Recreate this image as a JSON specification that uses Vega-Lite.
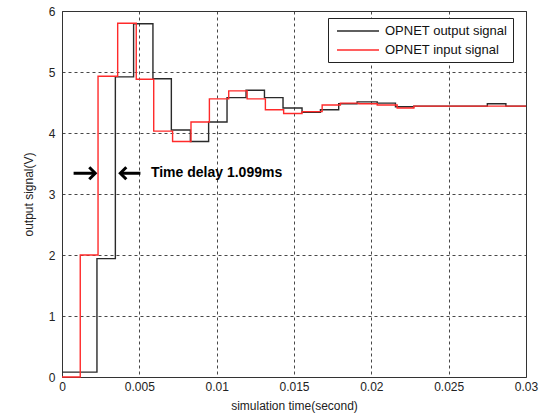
{
  "$schema": "https://vega.github.io/schema/vega-lite/v6.json",
  "width": 464,
  "height": 366,
  "autosize": {"type": "none"},
  "padding": {"left": 62, "top": 11, "right": 17, "bottom": 39},
  "background": "white",
  "config": {
    "font": "Liberation Sans",
    "view": {"stroke": "#333333", "strokeWidth": 1},
    "axis": {
      "domain": false,
      "grid": true,
      "gridColor": "#333333",
      "gridDash": [3, 3],
      "gridWidth": 1,
      "gridOpacity": 0.9,
      "ticks": false,
      "labelFont": "Liberation Sans",
      "labelFontSize": 12,
      "labelColor": "#222222",
      "labelFlush": false,
      "labelOverlap": false,
      "titleFont": "Liberation Sans",
      "titleFontSize": 12,
      "titleFontWeight": "normal",
      "titleColor": "#222222"
    }
  },
  "datasets": {
    "signals": [
      {"series": "OPNET output signal", "t": 0, "v": 0.08},
      {"series": "OPNET output signal", "t": 0.00226, "v": 1.94},
      {"series": "OPNET output signal", "t": 0.00345, "v": 4.92},
      {"series": "OPNET output signal", "t": 0.00463, "v": 5.79},
      {"series": "OPNET output signal", "t": 0.00588, "v": 4.89},
      {"series": "OPNET output signal", "t": 0.00707, "v": 4.05},
      {"series": "OPNET output signal", "t": 0.0083, "v": 3.86},
      {"series": "OPNET output signal", "t": 0.00948, "v": 4.18},
      {"series": "OPNET output signal", "t": 0.01067, "v": 4.58},
      {"series": "OPNET output signal", "t": 0.0119, "v": 4.7},
      {"series": "OPNET output signal", "t": 0.01309, "v": 4.58},
      {"series": "OPNET output signal", "t": 0.01429, "v": 4.41},
      {"series": "OPNET output signal", "t": 0.01552, "v": 4.34},
      {"series": "OPNET output signal", "t": 0.01671, "v": 4.38},
      {"series": "OPNET output signal", "t": 0.01789, "v": 4.48},
      {"series": "OPNET output signal", "t": 0.01908, "v": 4.51},
      {"series": "OPNET output signal", "t": 0.02038, "v": 4.49},
      {"series": "OPNET output signal", "t": 0.02156, "v": 4.43},
      {"series": "OPNET output signal", "t": 0.02275, "v": 4.44},
      {"series": "OPNET output signal", "t": 0.0275, "v": 4.48},
      {"series": "OPNET output signal", "t": 0.0287, "v": 4.44},
      {"series": "OPNET output signal", "t": 0.03, "v": 4.44},
      {"series": "OPNET input signal", "t": 0, "v": 0},
      {"series": "OPNET input signal", "t": 0.00118, "v": 2.0},
      {"series": "OPNET input signal", "t": 0.00233, "v": 4.93},
      {"series": "OPNET input signal", "t": 0.0036, "v": 5.8},
      {"series": "OPNET input signal", "t": 0.0048, "v": 4.88},
      {"series": "OPNET input signal", "t": 0.00593, "v": 4.03},
      {"series": "OPNET input signal", "t": 0.00715, "v": 3.86},
      {"series": "OPNET input signal", "t": 0.00834, "v": 4.18},
      {"series": "OPNET input signal", "t": 0.00953, "v": 4.56},
      {"series": "OPNET input signal", "t": 0.01078, "v": 4.69},
      {"series": "OPNET input signal", "t": 0.01197, "v": 4.56},
      {"series": "OPNET input signal", "t": 0.01315, "v": 4.38},
      {"series": "OPNET input signal", "t": 0.01433, "v": 4.32},
      {"series": "OPNET input signal", "t": 0.01552, "v": 4.35},
      {"series": "OPNET input signal", "t": 0.01682, "v": 4.46},
      {"series": "OPNET input signal", "t": 0.018, "v": 4.49},
      {"series": "OPNET input signal", "t": 0.01919, "v": 4.48},
      {"series": "OPNET input signal", "t": 0.02038, "v": 4.46},
      {"series": "OPNET input signal", "t": 0.02167, "v": 4.41},
      {"series": "OPNET input signal", "t": 0.02275, "v": 4.44},
      {"series": "OPNET input signal", "t": 0.03, "v": 4.44}
    ],
    "arrows": [
      {"t": 0.00075, "t2": 0.00213, "v": 3.34},
      {"t": 0.00379, "t2": 0.00507, "v": 3.34}
    ],
    "heads": [
      {"t": 0.00215, "v": 3.34, "shape": "M-1,-1L0,0L-1,1"},
      {"t": 0.00377, "v": 3.34, "shape": "M1,-1L0,0L1,1"}
    ],
    "notes": [
      {"t": 0.00575, "v": 3.34, "label": "Time delay 1.099ms"}
    ]
  },
  "layer": [
    {
      "data": {"name": "signals"},
      "transform": [{"filter": "datum.series === 'OPNET output signal'"}],
      "mark": {"type": "line", "interpolate": "step-after", "strokeWidth": 1.4},
      "encoding": {
        "x": {
          "field": "t", "type": "quantitative",
          "scale": {"domain": [0, 0.03], "nice": false, "zero": false},
          "axis": {"values": [0, 0.005, 0.01, 0.015, 0.02, 0.025, 0.03], "format": "~g", "title": "simulation time(second)", "labelPadding": 4, "titlePadding": 8}
        },
        "y": {
          "field": "v", "type": "quantitative",
          "scale": {"domain": [0, 6], "nice": false, "zero": false},
          "axis": {"values": [0, 1, 2, 3, 4, 5, 6], "format": "d", "title": "output signal(V)", "labelPadding": 7, "titlePadding": 13}
        },
        "color": {
          "field": "series", "type": "nominal",
          "scale": {"domain": ["OPNET output signal", "OPNET input signal"], "range": ["#2a2a2a", "#ff2a2a"]},
          "legend": {
            "title": null, "orient": "none", "legendX": 266, "legendY": 7,
            "strokeColor": "#222222", "fillColor": "white", "padding": 5, "cornerRadius": 0,
            "symbolType": "M-3,0H3", "symbolSize": 196, "symbolStrokeWidth": 1.4,
            "symbolOffset": 17, "labelOffset": 19, "rowPadding": 4,
            "labelFont": "Liberation Sans", "labelFontSize": 13, "labelColor": "#111111"
          }
        }
      }
    },
    {
      "data": {"name": "signals"},
      "transform": [{"filter": "datum.series === 'OPNET input signal'"}],
      "mark": {"type": "line", "interpolate": "step-after", "strokeWidth": 1.4},
      "encoding": {
        "x": {"field": "t", "type": "quantitative"},
        "y": {"field": "v", "type": "quantitative"},
        "color": {"field": "series", "type": "nominal"}
      }
    },
    {
      "data": {"name": "arrows"},
      "mark": {"type": "rule", "color": "black", "strokeWidth": 3},
      "encoding": {
        "x": {"field": "t", "type": "quantitative"},
        "x2": {"field": "t2"},
        "y": {"field": "v", "type": "quantitative"}
      }
    },
    {
      "data": {"name": "heads"},
      "mark": {"type": "point", "filled": false, "stroke": "black", "strokeWidth": 3, "opacity": 1, "size": 144, "strokeJoin": "miter"},
      "encoding": {
        "x": {"field": "t", "type": "quantitative"},
        "y": {"field": "v", "type": "quantitative"},
        "shape": {"field": "shape", "type": "nominal", "scale": null}
      }
    },
    {
      "data": {"name": "notes"},
      "mark": {"type": "text", "align": "left", "baseline": "middle", "font": "Liberation Sans", "fontSize": 14, "fontWeight": "bold", "color": "black"},
      "encoding": {
        "x": {"field": "t", "type": "quantitative"},
        "y": {"field": "v", "type": "quantitative"},
        "text": {"field": "label"}
      }
    }
  ]
}
